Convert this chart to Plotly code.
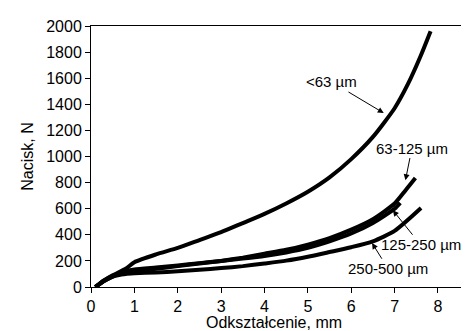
import plotly.graph_objects as go

# Deformation (mm) and load (N)
x_lt63 = [0.1, 0.3, 0.5, 0.8, 1.0, 1.5, 2.0, 2.5, 3.0, 3.5, 4.0, 4.5, 5.0, 5.5, 6.0, 6.5, 7.0, 7.3, 7.6, 7.83]
y_lt63 = [0, 50, 90, 140, 190, 250, 300, 360, 420, 490, 560, 640, 730, 840, 980, 1150, 1370, 1550, 1770, 1960]

x_63_125 = [0.1, 0.3, 0.5, 0.7, 1.0, 1.5, 2.0, 2.5, 3.0, 3.5, 4.0, 4.5, 5.0, 5.5, 6.0, 6.5, 7.0, 7.25, 7.48]
y_63_125 = [0, 45, 80, 105, 120, 140, 160, 180, 200, 225, 255, 285, 325, 375, 440, 520, 640, 740, 835]

x_125_250 = [0.1, 0.3, 0.5, 0.8, 1.0, 1.5, 2.0, 2.5, 3.0, 3.5, 4.0, 4.5, 5.0, 5.5, 6.0, 6.5, 7.0, 7.13]
y_125_250 = [0, 50, 85, 120, 135, 150, 165, 183, 200, 218, 238, 265, 300, 350, 410, 490, 600, 645]

x_250_500 = [0.1, 0.3, 0.5, 0.8, 1.0, 1.5, 2.0, 2.5, 3.0, 3.5, 4.0, 4.5, 5.0, 5.5, 6.0, 6.5, 7.0, 7.61]
y_250_500 = [0, 45, 80, 100, 105, 112, 120, 132, 145, 160, 180, 202, 232, 268, 305, 350, 430, 605]

series = [
    ("<63 µm", x_lt63, y_lt63),
    ("63-125 µm", x_63_125, y_63_125),
    ("125-250 µm", x_125_250, y_125_250),
    ("250-500 µm", x_250_500, y_250_500),
]

# label positions (text centre) and arrow heads
labels = ["<63 µm", "63-125 µm", "125-250 µm", "250-500 µm"]
label_x = [5.55, 7.4, 7.6, 6.85]
label_y = [1571, 1065, 324, 140]
head_x = [6.75, 7.25, 6.96, 6.48]
head_y = [1333, 818, 588, 337]

x_ticks = [0, 1, 2, 3, 4, 5, 6, 7, 8, 9]
y_ticks = [0, 200, 400, 600, 800, 1000, 1200, 1400, 1600, 1800, 2000]
x_title = "Odkształcenie, mm"
y_title = "Nacisk, N"

FONT = "Liberation Sans, Arial, sans-serif"

fig = go.Figure()
for name, xs, ys in series:
    fig.add_trace(go.Scatter(x=xs, y=ys, mode="lines", name=name,
                             line=dict(color="black", width=4, shape="spline", smoothing=0.6),
                             showlegend=False))

for t, lx, ly, hx, hy in zip(labels, label_x, label_y, head_x, head_y):
    fig.add_annotation(x=hx, y=hy, ax=lx, ay=ly, xref="x", yref="y", axref="x", ayref="y",
                       text=t, showarrow=True, arrowhead=2, arrowsize=1.2, arrowwidth=1,
                       arrowcolor="black", font=dict(family=FONT, size=15, color="black"))

# x-axis title placed as in the reference (slightly left of the plot centre)
fig.add_annotation(x=0.474, y=0, xref="paper", yref="paper", xanchor="center", yanchor="top",
                   yshift=-25, text=x_title, showarrow=False,
                   font=dict(family=FONT, size=16, color="black"))

fig.update_layout(
    width=469, height=331,
    margin=dict(l=83, r=0, t=18, b=52),
    paper_bgcolor="white", plot_bgcolor="white",
    font=dict(family=FONT, size=16, color="black"),
    xaxis=dict(range=[0, 8.9], tickvals=x_ticks, ticks="outside", ticklen=5, tickwidth=1,
               tickcolor="black", showline=True, linecolor="black", linewidth=1, mirror=True,
               showgrid=False, zeroline=False, automargin=False),
    yaxis=dict(range=[0, 2000], tickvals=y_ticks, ticks="outside", ticklen=5, tickwidth=1,
               tickcolor="black", showline=True, linecolor="black", linewidth=1,
               showgrid=False, zeroline=False,
               title=dict(text=y_title, font=dict(size=16), standoff=8),
               automargin=False),
)

fig.write_html("out.html")
